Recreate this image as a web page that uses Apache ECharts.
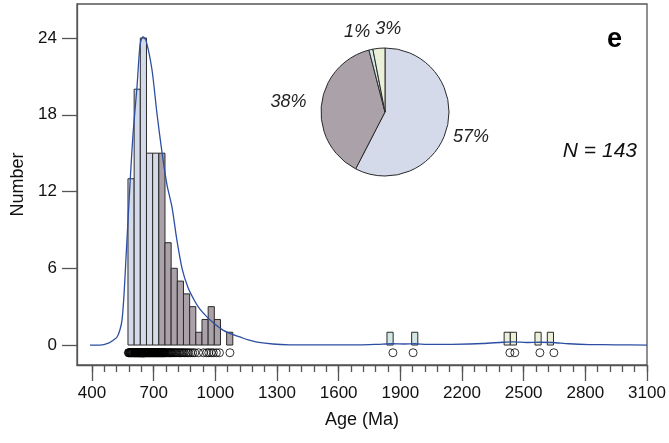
<!DOCTYPE html>
<html>
<head>
<meta charset="utf-8">
<script src="https://cdn.jsdelivr.net/npm/echarts@6/dist/echarts.min.js"></script>
<style>
html, body { margin: 0; padding: 0; background: #fff; }
#age-chart { width: 669px; height: 443px; }
</style>
</head>
<body>
<div id="age-chart"></div>
<script>
// histogram bins (30 Ma wide), count and age group of each bin
var binWidth = 30;
var binStarts = [575, 605, 635, 665, 695, 725, 755, 785, 815, 845, 875, 905, 935, 965, 995, 1055,
  1835, 1955, 2405, 2435, 2555, 2615];
var binCounts = [13, 20, 24, 15, 15, 15, 8, 6, 5, 4, 3, 1, 2, 3, 2, 1,
  1, 1, 1, 1, 1, 1];
var binGroups = [0, 0, 0, 0, 0, 1, 1, 1, 1, 1, 1, 1, 1, 1, 1, 1,
  2, 2, 3, 3, 3, 3];

// single grain ages (open circles under the histogram)
var grainAges = [
  577, 579, 581, 584, 586, 588, 590, 592, 594, 596, 598, 601, 603,
  606, 607, 609, 610, 612, 613, 615, 617, 618, 620, 621, 623, 625, 626, 628, 629, 631, 632, 633, 634,
  636, 637, 638, 639, 640, 642, 643, 644, 645, 646, 647, 648, 649, 650, 651, 652, 653, 655, 656, 657, 659, 660, 662, 664,
  667, 668, 670, 672, 674, 676, 678, 680, 682, 684, 686, 688, 690, 692, 694,
  696, 698, 700, 702, 704, 706, 708, 710, 712, 714, 716, 718, 720, 722, 724,
  726, 728, 730, 732, 734, 736, 738, 740, 742, 744, 746, 748, 750, 752, 754,
  757, 761, 765, 769, 773, 777, 781, 784,
  788, 793, 798, 803, 808, 813,
  819, 825, 831, 837, 843,
  849, 857, 864, 871,
  880, 890, 900,
  918,
  942, 958,
  968, 980, 990,
  1005, 1020,
  1071,
  1864, 1962, 2433, 2457, 2579, 2647
];
var grainRow = -0.6;

// probability density curve (scaled to counts)
var kdeAge = [390, 440, 480, 505, 522, 536, 546, 556, 566, 576, 588, 600, 619, 634, 648, 663, 692, 716, 741,
  765, 789, 813, 838, 867, 901, 925, 959, 1000, 1037, 1080, 1120, 1160, 1203, 1280, 1363, 1500, 1700,
  1790, 1860, 1920, 1970, 2030, 2150, 2300, 2400, 2450, 2520, 2580, 2640, 2720, 2820, 2950, 3100];
var kdeCount = [0, 0, 0.15, 0.4, 0.63, 1.2, 1.95, 4.0, 7.0, 10.0, 13.5, 16.6, 20.2, 23.5, 24.1, 23.8, 21.5, 18.1, 15.0,
  12.5, 10.8, 8.2, 6.0, 4.5, 3.4, 2.8, 2.2, 1.6, 1.17, 0.85, 0.63, 0.4, 0.23, 0.08, 0.02, 0.01, 0.02,
  0.06, 0.1, 0.08, 0.1, 0.05, 0.06, 0.12, 0.22, 0.25, 0.2, 0.22, 0.2, 0.1, 0.04, 0.02, 0];

// pie of age groups
var pieValues = [57, 38, 1, 3];

// axis ticks
var xMajorTicks = [400, 700, 1000, 1300, 1600, 1900, 2200, 2500, 2800, 3100];
var xMinorTicks = [];
for (var t = 400; t <= 3100; t += 60) xMinorTicks.push(t);
var yTicks = [0, 6, 12, 18, 24];

var groupColors = ['#d4daea', '#aaa1a9', '#d3e7e6', '#ebf0d9'];
var axisGray = '#555';
var fontFam = '"Liberation Sans", Arial, sans-serif';

var histData = [];
for (var i = 0; i < binStarts.length; ++i) {
  histData.push([binStarts[i], binStarts[i] + binWidth, binCounts[i], binGroups[i]]);
}
var kdeData = [];
for (var i = 0; i < kdeAge.length; ++i) kdeData.push([kdeAge[i], kdeCount[i]]);
var grainData = [];
for (var i = 0; i < grainAges.length; ++i) grainData.push([grainAges[i], grainRow]);
var pieData = [];
for (var i = 0; i < pieValues.length; ++i) {
  pieData.push({ value: pieValues[i], itemStyle: { color: groupColors[i] } });
}
var pieLabelShift = [{ dx: -7, dy: 8 }, { dx: -2, dy: -2 }, { dx: 6, dy: -10 }, { dx: 28, dy: -11 }];

var chart = echarts.init(document.getElementById('age-chart'));
var option = {
  backgroundColor: '#fff',
  animation: false,
  grid: {
    left: 77, right: 22, top: 4, bottom: 78,
    show: true, borderColor: axisGray, borderWidth: 1.3, backgroundColor: 'transparent'
  },
  xAxis: [{
    type: 'value', min: 327, max: 3100, position: 'bottom',
    name: 'Age (Ma)', nameLocation: 'middle', nameGap: 46,
    nameTextStyle: { fontFamily: fontFam, fontSize: 18, color: '#111' },
    axisLine: { show: true, onZero: false, lineStyle: { color: axisGray, width: 1.3 } },
    axisTick: { show: true, inside: false, customValues: xMajorTicks, length: 16, lineStyle: { color: axisGray, width: 1.3 } },
    axisLabel: {
      customValues: xMajorTicks, margin: 20, fontFamily: fontFam, fontSize: 17, color: '#111',
      formatter: function (v) { return String(v); }
    },
    splitLine: { show: false }
  }, {
    type: 'value', min: 327, max: 3100, position: 'bottom', offset: 0,
    axisLine: { show: false, onZero: false },
    axisTick: { show: true, inside: false, customValues: xMinorTicks, length: 7, lineStyle: { color: axisGray, width: 1.3 } },
    axisLabel: { show: false },
    splitLine: { show: false }
  }],
  yAxis: {
    type: 'value', min: -1.56, max: 26.66,
    name: 'Number', nameLocation: 'middle', nameGap: 48,
    nameTextStyle: { fontFamily: fontFam, fontSize: 18, color: '#111' },
    axisLine: { show: true, onZero: false, lineStyle: { color: axisGray, width: 1.3 } },
    axisTick: { show: true, customValues: yTicks, length: 15, lineStyle: { color: axisGray, width: 1.3 } },
    axisLabel: { customValues: yTicks, margin: 20, fontFamily: fontFam, fontSize: 17, color: '#111' },
    splitLine: { show: false }
  },
  series: [{
    type: 'custom',
    xAxisIndex: 0,
    data: histData,
    encode: { x: [0, 1], y: 2 },
    renderItem: function (params, api) {
      var p0 = api.coord([api.value(0), api.value(2)]);
      var p1 = api.coord([api.value(1), 0]);
      return {
        type: 'rect',
        shape: { x: p0[0], y: p0[1], width: p1[0] - p0[0], height: p1[1] - p0[1] },
        style: { fill: groupColors[api.value(3)], stroke: '#2a2a2a', lineWidth: 1 }
      };
    },
    z: 2
  }, {
    type: 'line',
    xAxisIndex: 0,
    data: kdeData,
    smooth: 0.25,
    showSymbol: false,
    lineStyle: { color: '#2d4fa3', width: 1.3 },
    z: 3
  }, {
    type: 'scatter',
    xAxisIndex: 0,
    data: grainData,
    symbol: 'circle',
    symbolSize: 8,
    itemStyle: { color: 'rgba(0,0,0,0)', borderColor: '#000', borderWidth: 1 },
    z: 4
  }, {
    type: 'pie',
    center: [385, 112],
    radius: 64,
    startAngle: 90,
    clockwise: true,
    avoidLabelOverlap: false,
    data: pieData,
    itemStyle: { borderColor: '#2a2a2a', borderWidth: 1 },
    label: {
      show: true, position: 'outside', formatter: '{c}%',
      fontFamily: fontFam, fontSize: 18, fontStyle: 'italic', color: '#222'
    },
    labelLine: { show: false, length: 8, length2: 0 },
    labelLayout: function (params) {
      return pieLabelShift[params.dataIndex];
    },
    emphasis: { disabled: true },
    z: 5
  }],
  graphic: [{
    type: 'text', right: 47, top: 26,
    style: { text: 'e', fontFamily: fontFam, fontSize: 27, fontWeight: 'bold', fill: '#000' }
  }, {
    type: 'text', right: 32, top: 141,
    style: { text: 'N = 143', fontFamily: fontFam, fontSize: 21, fontStyle: 'italic', fill: '#111' }
  }]
};
chart.setOption(option);
</script>
</body>
</html>
